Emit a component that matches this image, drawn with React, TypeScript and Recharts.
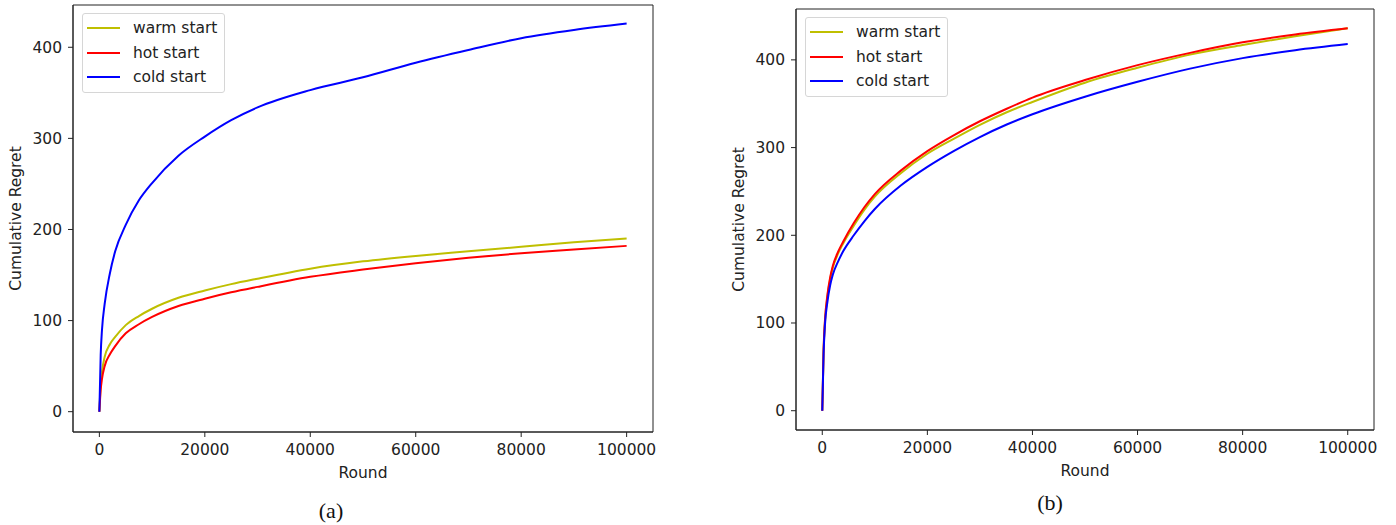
import { LineChart, Line, XAxis, YAxis, ReferenceArea } from "recharts"

// (a) rounds and cumulative regret
const roundsA = [0, 250, 500, 1000, 2000, 3000, 5000, 7500, 10000, 15000, 20000, 25000, 30000, 40000, 50000, 60000, 70000, 80000, 90000, 100000]
const warmA = [0, 30, 44, 60, 74, 82, 95, 105, 113, 125, 133, 140, 146, 157, 165, 171, 176, 181, 186, 190]
const hotA = [0, 24, 36, 50, 63, 72, 86, 96, 104, 116, 124, 131, 137, 148, 156, 163, 169, 174, 178, 182]
const coldA = [0, 62, 90, 118, 152, 176, 205, 232, 251, 281, 302, 320, 334, 353, 367, 383, 397, 410, 419, 426]

// (b)
const roundsB = [0, 250, 500, 1000, 1500, 2000, 3000, 4000, 6000, 8000, 10000, 15000, 20000, 25000, 30000, 35000, 40000, 50000, 60000, 70000, 80000, 90000, 100000]
const warmB = [0, 68, 100, 131, 150, 163, 179, 191, 211, 229, 244, 271, 293, 310, 326, 340, 352, 374, 391, 406, 417, 427, 436]
const hotB = [0, 70, 102, 133, 152, 165, 181, 193, 214, 232, 247, 274, 296, 314, 330, 344, 357, 377, 394, 408, 420, 429, 436]
const coldB = [0, 65, 97, 125, 143, 155, 170, 182, 200, 216, 230, 257, 278, 296, 312, 326, 338, 358, 375, 390, 402, 411, 418]

const xTicks = [0, 20000, 40000, 60000, 80000, 100000]
const yTicks = [0, 100, 200, 300, 400]
const seriesNames = ["warm start", "hot start", "cold start"]
const colors = ["#bfbf00", "#ff0000", "#0000ff"]

const FONT = "'DejaVu Sans', sans-serif"
const tickStyle = { fontSize: 15.5, fill: "#222", fontFamily: FONT }

const toPoints = (rounds: number[], values: number[]) => rounds.map((r, i) => ({ x: r, y: values[i] }))

function LegendBox({ left, top }: { left: number; top: number }) {
  return (
    <div
      style={{
        position: "absolute",
        left,
        top,
        background: "rgba(255,255,255,0.8)",
        border: "1px solid #d6d6d6",
        borderRadius: 3,
        padding: "2px 7px 2px 4px",
        fontFamily: FONT,
        fontSize: 15.5,
        color: "#222",
      }}
    >
      {seriesNames.map((name, i) => (
        <div key={name} style={{ display: "flex", alignItems: "center", height: 24.5 }}>
          <div style={{ width: 33, height: 2, background: colors[i], marginRight: 13 }} />
          <span>{name}</span>
        </div>
      ))}
    </div>
  )
}

function Panel(props: {
  rounds: number[]
  series: number[][]
  yDomain: [number, number]
  width: number
  height: number
  top: number
  right: number
}) {
  const { rounds, series, yDomain, width, height, top, right } = props
  return (
    <LineChart width={width} height={height} margin={{ top, right, left: 0, bottom: 0 }}>
      <XAxis
        type="number"
        dataKey="x"
        domain={[-5000, 105000]}
        ticks={xTicks}
        allowDataOverflow
        height={64}
        stroke="#222"
        tickSize={5}
        tickMargin={7}
        tick={tickStyle}
        label={{ value: "Round", position: "center", dy: 8, style: tickStyle }}
      />
      <YAxis
        type="number"
        dataKey="y"
        domain={yDomain}
        ticks={yTicks}
        allowDataOverflow
        width={73}
        stroke="#222"
        tickSize={5}
        tickMargin={6}
        tick={tickStyle}
        label={{ value: "Cumulative Regret", angle: -90, position: "center", dx: -21, style: tickStyle }}
      />
      <ReferenceArea x1={-5000} x2={105000} y1={yDomain[0]} y2={yDomain[1]} fill="none" stroke="#222" strokeWidth={1} />
      {series.map((vals, i) => (
        <Line
          key={seriesNames[i]}
          data={toPoints(rounds, vals)}
          dataKey="y"
          name={seriesNames[i]}
          type="monotone"
          stroke={colors[i]}
          strokeWidth={2}
          dot={false}
          isAnimationActive={false}
        />
      ))}
    </LineChart>
  )
}

const captionStyle = {
  position: "absolute" as const,
  transform: "translate(-50%, -50%)",
  fontFamily: "'Liberation Serif', 'Times New Roman', serif",
  fontSize: 22,
  color: "#111",
}

export default function App() {
  return (
    <div style={{ position: "absolute", left: 0, top: 0, width: 1396, height: 525, background: "#fff" }}>
      <div style={{ position: "absolute", left: 0, top: 0 }}>
        <Panel
          rounds={roundsA}
          series={[warmA, hotA, coldA]}
          yDomain={[-22.3, 446.4]}
          width={680}
          height={496}
          top={5}
          right={27}
        />
      </div>
      <div style={{ position: "absolute", left: 723, top: 0 }}>
        <Panel
          rounds={roundsB}
          series={[warmB, hotB, coldB]}
          yDomain={[-22, 458]}
          width={673}
          height={494}
          top={9}
          right={22}
        />
      </div>
      <LegendBox left={82} top={13} />
      <LegendBox left={805} top={17} />
      <div style={{ ...captionStyle, left: 331, top: 511 }}>(a)</div>
      <div style={{ ...captionStyle, left: 1050, top: 503 }}>(b)</div>
    </div>
  )
}
